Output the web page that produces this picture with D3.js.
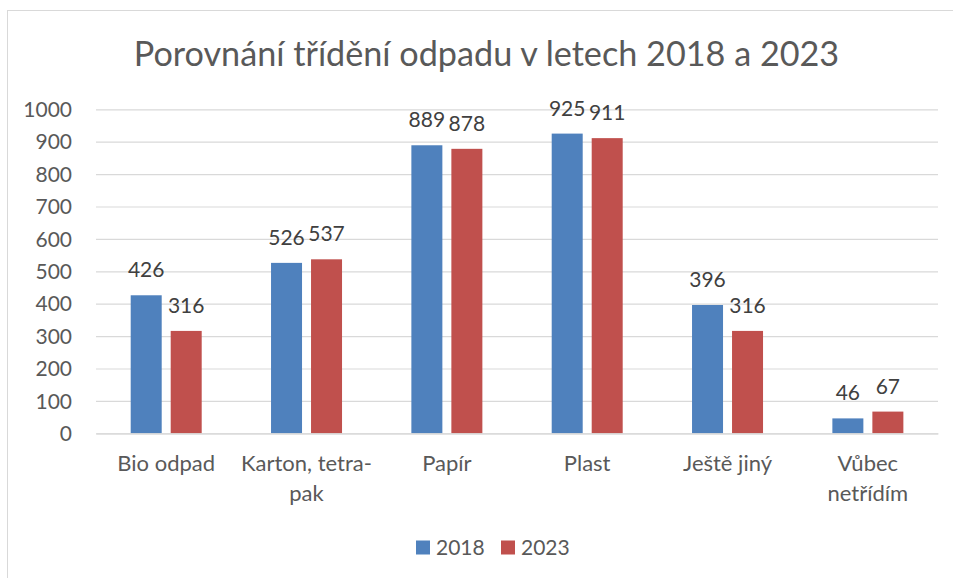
<!DOCTYPE html>
<html><head><meta charset="utf-8">
<script src="https://cdn.jsdelivr.net/npm/d3@7"></script>
<style>html,body{margin:0;padding:0;background:#fff;}svg{display:block;}</style>
</head><body>
<svg id="chart" width="953" height="578"></svg>
<script>
const title = "Porovnání třídění odpadu v letech 2018 a 2023";
const categories = ["Bio odpad", "Karton, tetra-pak", "Papír", "Plast", "Ještě jiný", "Vůbec netřídím"];
const seriesNames = ["2018", "2023"];
const values2018 = [426, 526, 889, 925, 396, 46];
const values2023 = [316, 537, 878, 911, 316, 67];
const yTicks = [0, 100, 200, 300, 400, 500, 600, 700, 800, 900, 1000];
const colors = ["#4F81BD", "#C0504D"];

const font = "Lato, 'Open Sans', sans-serif";
const svg = d3.select("#chart");
const W = 953, H = 578;
const m = {left: 96, right: 15, top: 109.3, bottom: 144.7};

svg.append("rect").attr("x", 7.5).attr("y", 10.5).attr("width", W + 10).attr("height", H + 10)
  .attr("fill", "#fff").attr("stroke", "#d9d9d9").attr("stroke-width", 1);

svg.append("text").attr("x", 486.5).attr("y", 66).attr("text-anchor", "middle")
  .attr("font-family", font).attr("font-size", 34.2).attr("fill", "#595959").text(title);

const x = d3.scaleBand().domain(categories).range([m.left, W - m.right]).paddingInner(0).paddingOuter(0);
const x1 = d3.scaleBand().domain(seriesNames).range([34.7, 105.7]).paddingInner(0.225);
const y = d3.scaleLinear().domain([0, 1000]).range([H - m.bottom, m.top]);

const yAxis = d3.axisLeft(y).tickValues(yTicks).tickFormat(d3.format("d"))
  .tickSize(-(W - m.right - m.left)).tickPadding(24);
const gy = svg.append("g").attr("transform", `translate(${m.left},0)`).call(yAxis);
gy.select(".domain").remove();
gy.selectAll(".tick line").attr("stroke", "#d9d9d9").attr("stroke-width", 1.2);
gy.selectAll(".tick text").attr("font-family", font).attr("font-size", 21).attr("fill", "#595959").attr("dy", "0.34em");

const data = categories.map((c, i) => ({cat: c, vals: [values2018[i], values2023[i]]}));
const groups = svg.append("g").selectAll("g").data(data).join("g")
  .attr("transform", d => `translate(${x(d.cat)},0)`);
groups.selectAll("rect").data(d => d.vals.map((v, j) => ({v, s: seriesNames[j], j}))).join("rect")
  .attr("x", d => x1(d.s)).attr("width", x1.bandwidth())
  .attr("y", d => y(d.v)).attr("height", d => y(0) - y(d.v))
  .attr("fill", d => colors[d.j]);
groups.selectAll("text.lbl").data(d => d.vals.map((v, j) => ({v, s: seriesNames[j], j}))).join("text")
  .attr("class", "lbl").attr("x", d => x1(d.s) + x1.bandwidth() / 2).attr("y", d => y(d.v) - 18)
  .attr("text-anchor", "middle").attr("font-family", font).attr("font-size", 21).attr("fill", "#404040")
  .text(d => d.v);

// x axis category labels with wrapping
const catSize = 22;
const xAxis = d3.axisBottom(x).tickSize(0).tickPadding(0);
const gx = svg.append("g").attr("transform", `translate(0,${y(0)})`).call(xAxis);
gx.select(".domain").attr("stroke", "#d9d9d9").attr("stroke-width", 1.2);
gx.selectAll(".tick text").attr("font-family", font).attr("font-size", catSize).attr("fill", "#595959")
  .attr("dy", null).attr("y", 38)
  .each(function(d) {
    const t = d3.select(this);
    const tokens = d.match(/[^\s-]+-?\s*/g);
    t.text(null);
    const maxW = 138;
    let lines = [], cur = "";
    const probe = svg.append("text").attr("font-family", font).attr("font-size", catSize);
    tokens.forEach(tok => {
      const test = cur + tok;
      probe.text(test.trim());
      if (cur && probe.node().getComputedTextLength() > maxW) { lines.push(cur.trim()); cur = tok; }
      else cur = test;
    });
    lines.push(cur.trim());
    probe.remove();
    lines.forEach((ln, k) => t.append("tspan").attr("x", 0).attr("y", 38 + k * 30).text(ln));
  });

// legend
const lg = svg.append("g").attr("transform", "translate(416,0)");
const offsets = [0, 85];
seriesNames.forEach((s, i) => {
  lg.append("rect").attr("x", offsets[i]).attr("y", 540.5).attr("width", 14).attr("height", 14).attr("fill", colors[i]);
  lg.append("text").attr("x", offsets[i] + 20).attr("y", 555).attr("font-family", font).attr("font-size", 21)
    .attr("fill", "#595959").text(s);
});
</script>
</body></html>
